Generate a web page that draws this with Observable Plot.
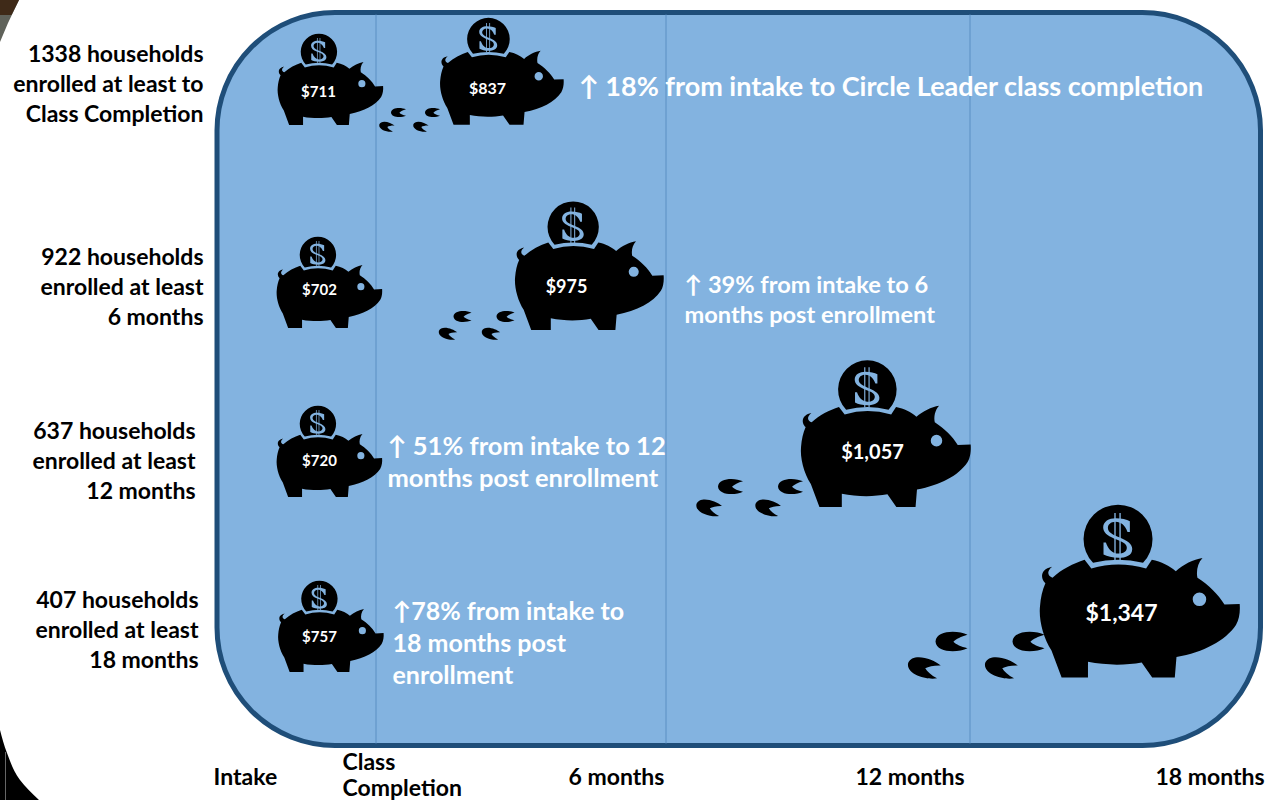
<!DOCTYPE html>
<html><head><meta charset="utf-8">
<script src="https://cdn.jsdelivr.net/npm/d3@7"></script>
<script src="https://cdn.jsdelivr.net/npm/@observablehq/plot@0.6"></script>
<style>html,body{margin:0;padding:0;background:#fff}svg{display:block}</style>
</head><body><div id="chart"></div>
<script>
// ---- chart values ----
const rowLabels = [
  "1338 households\nenrolled at least to\nClass Completion",
  "922 households\nenrolled at least\n6 months",
  "637 households\nenrolled at least\n12 months",
  "407 households\nenrolled at least\n18 months"
];
const stageLabels = ["Intake", "Class\nCompletion", "6 months", "12 months", "18 months"];
const intakeAmounts = [711, 702, 720, 757];
const laterAmounts = [837, 975, 1057, 1347];
const changeNotes = [
  "↑ 18% from intake to Circle Leader class completion",
  "↑ 39% from intake to 6\nmonths post enrollment",
  "↑ 51% from intake to 12\nmonths post enrollment",
  "↑78% from intake to\n18 months post\nenrollment"
];
const money = d3.format("$,");

// ---- schematic layout (chart units) ----
const panel = {x1: 217, x2: 1260.5, y1: 12.5, y2: 745.5};
const dividers = [375.5, 665.5, 969.5];
const rowLabelAt = [[203, 82], [203, 285], [195, 459], [198, 628]];
const stageAt = [[213, 776], [342, 774], [568, 776], [855, 776], [1155, 776]];
const intakeAt = [[330, 79], [329, 282], [329, 451], [330.5, 626]];
const laterAt = [[501.5, 71], [589, 265.5], [885.5, 433.5], [1139.5, 591]];
const intakeTextAt = [[318, 92], [319, 290], [319, 461], [319, 637]];
const laterTextAt = [[487, 88], [566, 287], [872, 452], [1121, 613]];
const noteAt = [[578, 87], [684, 298], [387, 460.5], [392, 641]];
const noteSize = [27, 23.6, 25.5, 25];
const noteLead = [1, 30 / 23.6, 32 / 25.5, 32 / 25];
const valueSizes = [16, 16, 18, 20, 23];
const tracks = [
  [[398, 112], [432, 112], [386, 126], [420, 126]],
  [[462, 316], [505, 316], [447, 333], [490, 333]],
  [[730, 486], [790, 486], [708, 507], [767, 507]],
  [[951, 641], [1028, 641], [923, 667], [1000, 667]]
];
const trackR = [7.5, 9, 12.5, 16];

// ---- glyphs, drawn in a 1-wide unit via the symbol size ----
function trace(ctx, d, k, ox, oy, s, sy = s) {
  const t = d.match(/[MLCQZ]|-?[\d.]+/g);
  let i = 0, c;
  const X = () => (+t[i++] - ox) / s * k, Y = () => (+t[i++] - oy) / sy * k;
  while (i < t.length) {
    c = t[i++];
    if (c === "M") ctx.moveTo(X(), Y());
    else if (c === "L") ctx.lineTo(X(), Y());
    else if (c === "C") ctx.bezierCurveTo(X(), Y(), X(), Y(), X(), Y());
    else if (c === "Q") ctx.quadraticCurveTo(X(), Y(), X(), Y());
    else if (c === "Z") ctx.closePath();
  }
}
const PX = 422, PY = 300, PS = 294.5, PSY = 304;
const bodyPath = "M258,203 L278,230 Q357,205 440,230 L457,203 C485,208 510,222 528,238 C550,218 580,202 607,198 C592,215 588,238 592,258 C625,280 655,310 672,340 L717,338 C719,360 716,385 706,402 C675,450 610,485 530,500 L525,563 L458,563 L427,517 C380,526 320,526 268,515 L268,563 L190,563 L160,480 C135,440 122,385 126,345 C128,320 133,295 142,275 C128,262 124,232 162,224 C145,238 148,252 163,258 C190,232 225,214 258,203 Z";
const pigSymbol = {draw(ctx, size) {
  const k = Math.sqrt(size / Math.PI);
  trace(ctx, bodyPath, k, PX, PY, PS, PSY);
  const ex = (598 - PX) / PS * k, ey = (324 - PY) / PSY * k, er = 20 / PS * k;
  ctx.moveTo(ex + er, ey);
  ctx.arc(ex, ey, er, 0, 2 * Math.PI, true);
  ctx.closePath();
  const cx = (357 - PX) / PS * k, cy = (140 - PY) / PSY * k, cr = 102 / PS * k;
  const a0 = Math.PI - 0.76, a1 = 0.76;
  const bx0 = cx + cr * Math.cos(a0), by = cy + cr * Math.sin(a0);
  ctx.moveTo(bx0, by);
  ctx.arc(cx, cy, cr, a0, a1 + 2 * Math.PI);
  ctx.quadraticCurveTo(cx, (194 - PY) / PSY * k, bx0, by);
  ctx.closePath();
}};
const dollarS = "M392,85 L392,118 L385,118 C378,98 365,87 350,87 C335,87 327,96 327,106 C327,120 342,126 362,135 C385,145 399,155 399,170 C399,190 380,197 358,197 C340,197 325,193 314,187 L314,150 L321,150 C328,172 342,184 358,184 C373,184 383,177 383,166 C383,152 366,147 345,138 C325,129 313,120 313,104 C313,86 330,76 350,76 C368,76 382,80 392,85 Z";
const dollarSymbol = {draw(ctx, size) {
  trace(ctx, dollarS, Math.sqrt(size / Math.PI), PX, PY, PS, PSY);
}};
const dollarBars = {draw(ctx, size) {
  trace(ctx, "M346,60 L350,60 L350,205 L346,205 Z M361,60 L365,60 L365,205 L361,205 Z", Math.sqrt(size / Math.PI), PX, PY, PS, PSY);
}};
const printSymbol = {draw(ctx, size) {
  trace(ctx, "M1,-0.42 C0.4,-0.72 -0.95,-0.72 -1,0 C-0.95,0.72 0.4,0.72 1,0.42 C0.6,0.34 0.28,0.18 0.12,0.02 C0.28,-0.14 0.6,-0.32 1,-0.42 Z", Math.sqrt(size / Math.PI), 0, 0, 1);
}};

// ---- tables built from the arrays ----
const pigs = [
  ...intakeAmounts.map((amount, i) => ({amount, at: intakeAt[i], text: intakeTextAt[i], size: valueSizes[0] - 1})),
  ...laterAmounts.map((amount, i) => ({amount, at: laterAt[i], text: laterTextAt[i], size: valueSizes[i + 1]}))
];
const prints = tracks.flatMap((t, i) => t.map((at, j) => ({at, r: trackR[i], tilt: j > 1 ? 16 : 0})));
const rScale = {type: "linear", domain: [702, 757, 837, 975, 1057, 1347], range: [52.5, 52.5, 61.5, 74, 84.5, 99.5]};
const bottomCorner = [[0, 730], [7, 753], [20, 780], [39, 800]];
const topCorner = [[19, 0], [8, 23], [0, 42]];
const topCornerDark = [[19, 0], [11.5, 15]];
const font = "Lato, Carlito, sans-serif";
const pigDot = (symbol, fill) => Plot.dot(pigs, {x: d => d.at[0], y: d => d.at[1], r: "amount", symbol, fill, stroke: "none"});

const chart = Plot.plot({
  width: 1278, height: 800, margin: 0,
  x: {domain: [0, 1278], range: [0, 1278], axis: null},
  y: {domain: [0, 800], range: [0, 800], axis: null},
  r: rScale,
  style: {background: "#fff", fontFamily: font},
  marks: [
    Plot.areaX(bottomCorner, {x1: 0, x2: d => d[0], y: d => d[1], fill: "#000", curve: "monotone-y"}),
    Plot.ruleX([5], {y1: 752, y2: 800, stroke: "#666", strokeWidth: 1}),
    Plot.areaX(topCorner, {x1: 0, x2: d => d[0], y: d => d[1], fill: "#5f625a"}),
    Plot.areaX(topCornerDark, {x1: 0, x2: d => d[0], y: d => d[1], fill: "#3f2a18"}),
    Plot.rect([panel], {x1: "x1", x2: "x2", y1: "y1", y2: "y2", rx: 118, fill: "#83b3e0", stroke: "#1f4e79", strokeWidth: 5}),
    Plot.ruleX(dividers, {x: d => d, y1: panel.y1 + 2, y2: panel.y2 - 2, stroke: "#5a8fc3", strokeWidth: 1}),
    Plot.dot(prints, {x: d => d.at[0], y: d => d.at[1], r: {value: d => d.r, scale: null}, rotate: d => d.tilt, symbol: printSymbol, fill: "#000", stroke: "none"}),
    pigDot(pigSymbol, "#000"),
    pigDot(dollarSymbol, "#83b3e0"),
    pigDot(dollarBars, "#83b3e0"),
    Plot.text(pigs, {x: d => d.text[0], y: d => d.text[1], text: d => money(d.amount), fontSize: d => d.size, fontWeight: 700, fill: "#fff", fontFamily: font}),
    Plot.text(rowLabels, {x: (d, i) => rowLabelAt[i][0], y: (d, i) => rowLabelAt[i][1], text: d => d, textAnchor: "end", fontSize: 23, lineHeight: 30 / 23, fontWeight: 700, fill: "#000", fontFamily: font}),
    Plot.text(stageLabels, {x: (d, i) => stageAt[i][0], y: (d, i) => stageAt[i][1], text: d => d, textAnchor: "start", fontSize: 23, lineHeight: 26 / 23, fontWeight: 700, fill: "#000", fontFamily: font}),
    ...changeNotes.map((note, i) => Plot.text([note], {x: noteAt[i][0], y: noteAt[i][1], text: d => d, textAnchor: "start", fontSize: noteSize[i], lineHeight: noteLead[i], fontWeight: 700, fill: "#fff", fontFamily: font}))
  ]
});
document.getElementById("chart").appendChild(chart);
</script></body></html>
